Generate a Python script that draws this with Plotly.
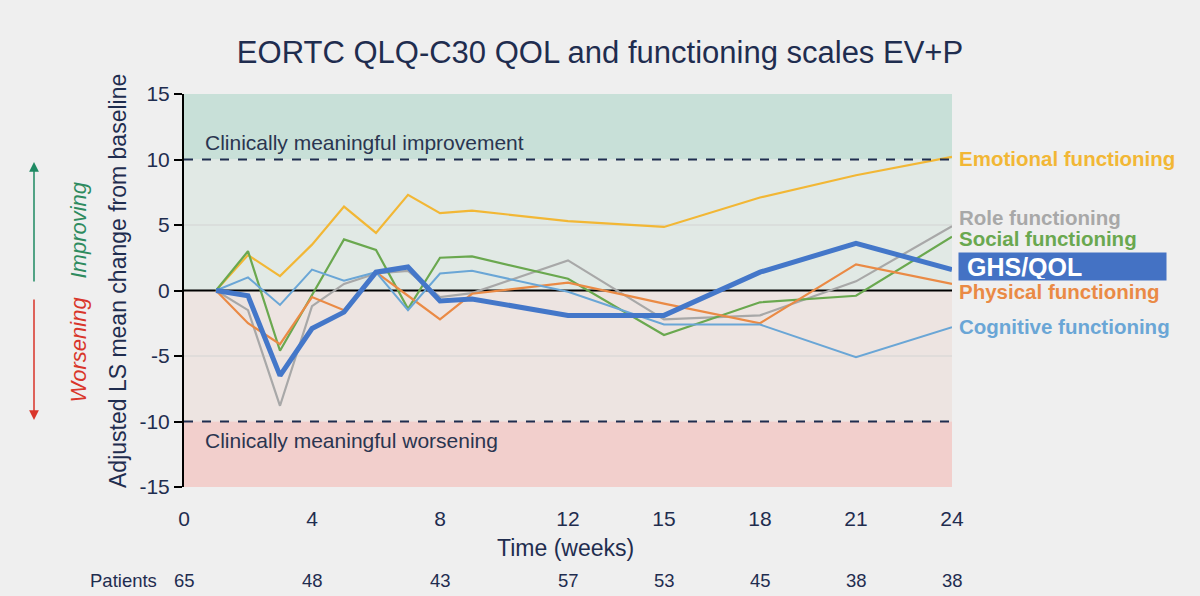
import plotly.graph_objects as go

weeks = [1, 2, 3, 4, 5, 6, 7, 8, 9, 12, 15, 18, 21, 24]
emotional = [0, 2.7, 1.1, 3.5, 6.4, 4.4, 7.3, 5.9, 6.1, 5.3, 4.85, 7.1, 8.8, 10.2]
role = [0, -1.5, -8.8, -1.2, 0.5, 1.3, 1.5, -0.5, -0.2, 2.3, -2.2, -1.9, 0.7, 4.9]
social = [0, 3.0, -4.6, -0.3, 3.9, 3.1, -1.4, 2.5, 2.6, 0.9, -3.4, -0.9, -0.4, 4.1]
ghs = [0, -0.4, -6.5, -2.9, -1.65, 1.4, 1.8, -0.8, -0.65, -1.9, -1.9, 1.4, 3.6, 1.6]
physical = [0, -2.5, -4.1, -0.5, -1.5, 1.4, -0.4, -2.2, -0.25, 0.6, -1.0, -2.5, 2.0, 0.5]
cognitive = [0, 1.0, -1.1, 1.6, 0.75, 1.4, -1.5, 1.3, 1.5, -0.1, -2.6, -2.6, -5.1, -2.8]

tick_weeks = [0, 4, 8, 12, 15, 18, 21, 24]
patients = [65, 48, 43, 57, 53, 45, 38, 38]
y_ticks = [-15, -10, -5, 0, 5, 10, 15]
y_tick_text = ["-15", "-10", "-5", "0", "5", "10", "15"]

series = [
    ("Emotional functioning", emotional, "#f2b735", 2.2),
    ("Role functioning", role, "#a8a8a8", 2.2),
    ("Social functioning", social, "#6aa84f", 2.2),
    ("Physical functioning", physical, "#ea8a45", 2.2),
    ("Cognitive functioning", cognitive, "#6aa6d6", 2.0),
    ("GHS/QOL", ghs, "#4477c9", 5),
]

NAVY = "#1f2d4f"
FONT = "Liberation Sans"

fig = go.Figure()
for name, vals, color, w in series:
    fig.add_trace(go.Scatter(x=weeks, y=vals, mode="lines", name=name,
                             line=dict(color=color, width=w), showlegend=False))

# background bands
bands = [(10, 15, "#c8e0d8"), (0, 10, "#e1e9e5"), (-10, 0, "#ede4e1"), (-15, -10, "#f2cfcc")]
shapes = []
for y0, y1, c in bands:
    shapes.append(dict(type="rect", xref="paper", yref="y", x0=0, x1=1, y0=y0, y1=y1,
                       fillcolor=c, line=dict(width=0), layer="below"))
for yv in (5, -5):
    shapes.append(dict(type="line", xref="paper", yref="y", x0=0, x1=1, y0=yv, y1=yv,
                       line=dict(color="#d3d3d3", width=1.2), layer="below"))
for yv in (10, -10):
    shapes.append(dict(type="line", xref="paper", yref="y", x0=0, x1=1, y0=yv, y1=yv,
                       line=dict(color=NAVY, width=2, dash="dash"), layer="above"))
shapes.append(dict(type="line", xref="paper", yref="y", x0=0, x1=1, y0=0, y1=0,
                   line=dict(color="black", width=2), layer="below"))

L, R, T, B = 184, 952, 94, 487
PW, PH = R - L, B - T

def px(xp):
    return (xp - L) / PW

def py(yp):
    return (B - yp) / PH

annotations = []
annotations.append(dict(text="Clinically meaningful improvement", xref="paper", yref="paper",
                        x=px(203), y=py(142), xanchor="left", yanchor="middle", showarrow=False,
                        font=dict(family=FONT, size=21, color="#2a3550")))
annotations.append(dict(text="Clinically meaningful worsening", xref="paper", yref="paper",
                        x=px(203), y=py(440), xanchor="left", yanchor="middle", showarrow=False,
                        font=dict(family=FONT, size=21, color="#2a3550")))

# axis titles
annotations.append(dict(text="Adjusted LS mean change from baseline", xref="paper", yref="paper",
                        x=px(118), y=py(281), textangle=-90, showarrow=False,
                        xanchor="center", yanchor="middle",
                        font=dict(family=FONT, size=23, color=NAVY)))
annotations.append(dict(text="Time (weeks)", xref="paper", yref="paper",
                        x=px(565), y=py(548), showarrow=False,
                        xanchor="center", yanchor="middle",
                        font=dict(family=FONT, size=23, color=NAVY)))

# improving / worsening arrows
annotations.append(dict(text="", xref="paper", yref="paper", x=px(34), y=py(162),
                        ax=0, ay=121, showarrow=True, arrowhead=2, arrowsize=1.3, arrowwidth=1.5,
                        arrowcolor="#1f8a63"))
annotations.append(dict(text="", xref="paper", yref="paper", x=px(34), y=py(420),
                        ax=0, ay=-122, showarrow=True, arrowhead=2, arrowsize=1.3, arrowwidth=1.5,
                        arrowcolor="#d9352a"))
annotations.append(dict(text="<i>Improving</i>", xref="paper", yref="paper", x=px(63), y=py(230),
                        textangle=-90, showarrow=False,
                        font=dict(family=FONT, size=22, color="#2e8b5f")))
annotations.append(dict(text="<i>Worsening</i>", xref="paper", yref="paper", x=px(63), y=py(350),
                        textangle=-90, showarrow=False,
                        font=dict(family=FONT, size=22, color="#d9352a")))

# right labels
labels = [
    ("Emotional functioning", "#f2b735", 158),
    ("Role functioning", "#a8a8a8", 217),
    ("Social functioning", "#6aa84f", 238),
    ("Physical functioning", "#ea8a45", 291),
    ("Cognitive functioning", "#6aa6d6", 326),
]
for txt, c, yp in labels:
    annotations.append(dict(text="<b>" + txt + "</b>", xref="paper", yref="paper",
                            x=px(957), y=py(yp), xanchor="left", yanchor="middle", showarrow=False,
                            font=dict(family=FONT, size=20.5, color=c)))
annotations.append(dict(text="&nbsp;<b>GHS/QOL</b>", xref="paper", yref="paper",
                        x=px(958), y=py(266), xanchor="left", yanchor="middle", showarrow=False,
                        bgcolor="#4472c4", width=205, height=25, align="left", borderpad=1,
                        font=dict(family=FONT, size=25, color="white")))

# patients row
annotations.append(dict(text="Patients", xref="paper", yref="paper", x=px(159), y=py(580),
                        xanchor="right", yanchor="middle", showarrow=False,
                        font=dict(family=FONT, size=18.5, color=NAVY)))
for wk, n in zip(tick_weeks, patients):
    annotations.append(dict(text=str(n), xref="x", yref="paper", x=wk, y=py(580),
                            xanchor="center", yanchor="middle", showarrow=False,
                            font=dict(family=FONT, size=18.5, color=NAVY)))

fig.update_layout(
    width=1200, height=596,
    margin=dict(l=L, r=1200 - R, t=T, b=596 - B),
    paper_bgcolor="#efefef", plot_bgcolor="#efefef",
    title=dict(text="EORTC QLQ-C30 QOL and functioning scales EV+P", x=0.5, xanchor="center",
               y=1 - 52 / 596, yanchor="middle", yref="container",
               font=dict(family=FONT, size=31, color=NAVY)),
    shapes=shapes, annotations=annotations,
    xaxis=dict(range=[0, 24], tickvals=tick_weeks, ticktext=[str(t) for t in tick_weeks],
               showgrid=False, zeroline=False, showline=False, ticks="",
               ticklabelstandoff=17,
               tickfont=dict(family=FONT, size=21, color=NAVY)),
    yaxis=dict(range=[-15, 15], tickvals=y_ticks, ticktext=y_tick_text,
               showgrid=False, zeroline=False,
               showline=True, linecolor="black", linewidth=2, ticks="outside", ticklen=8,
               tickcolor="black", tickwidth=2,
               tickfont=dict(family=FONT, size=21, color=NAVY)),
    font=dict(family=FONT),
)

fig.write_html("out.html")
